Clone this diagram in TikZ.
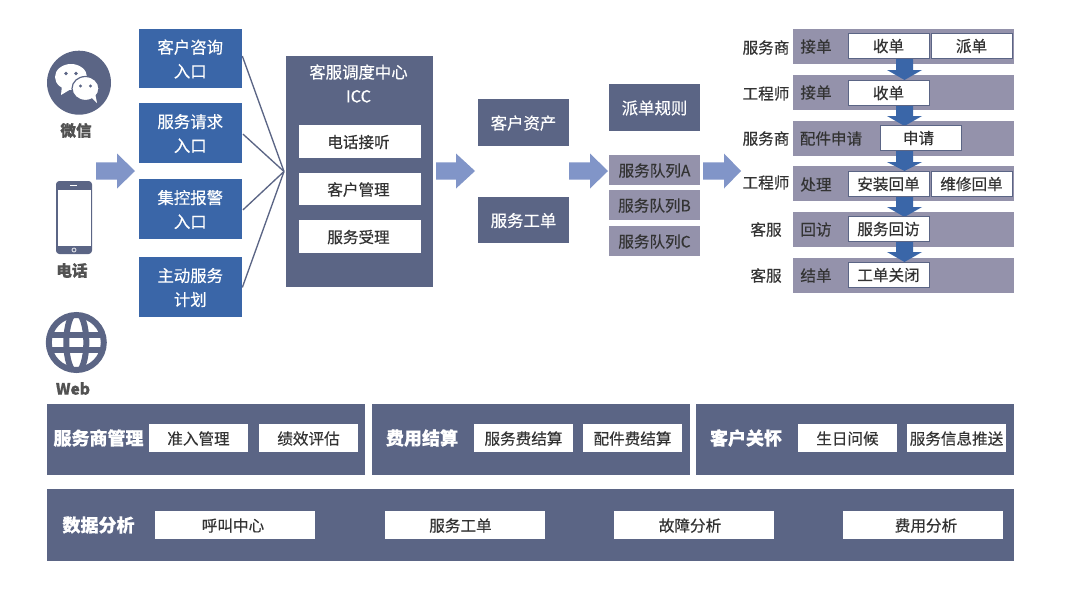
\documentclass[tikz,border=0pt]{standalone}
\usepackage{fontspec}
\setmainfont{Noto Sans CJK SC}[FakeBold=0.35]
\definecolor{slateC}{HTML}{5B6585}
\definecolor{blueC}{HTML}{3A66A8}
\definecolor{bandC}{HTML}{9492AB}
\definecolor{arrowC}{HTML}{8195C8}
\definecolor{inkC}{HTML}{333333}
\tikzset{
  boxbase/.style={inner sep=0pt,align=center,font=\fontsize{11.7}{18}\selectfont},
  bigtext/.style={font=\fontsize{12.3}{18}\selectfont},
  slatebox/.style={boxbase,bigtext,fill=slateC,text=white},
  bluebox/.style={boxbase,bigtext,fill=blueC,text=white},
  whitebox/.style={boxbase,fill=white,text=inkC},
  whiteedge/.style={whitebox,draw=slateC,line width=0.5pt},
  bandbox/.style={boxbase,fill=bandC,text=inkC},
  lbl/.style={inner sep=0pt,align=center,text=inkC,font=\fontsize{11.7}{18}\selectfont},
  iconlbl/.style={lbl,text=inkC!85!white,font=\fontsize{11.7}{18}\selectfont\bfseries},
  titlelbl/.style={inner sep=0pt,text=white,font=\fontsize{13.5}{18}\selectfont\bfseries},
  feed/.style={draw=slateC,line width=1pt,shorten <=1.2pt},
}
% [text x offset], name, x1, y1, x2, y2, style, text
\newcommand\bx[8][0]{\node[#7,minimum width={(#5-#3)*0.75pt},minimum height={(#6-#4)*0.75pt}] (#2) at ({(#3+#5)/2},{(#4+#6)/2}) {};
  \node[#7,fill=none,draw=none,xshift={(#1)*0.75pt},yshift=-0.4pt] (#2t) at (#2.center) {#8};}
% block arrow pointing right: x start, x head, x tip, y centre
\newcommand\rarrow[4]{\fill[arrowC] (#1,#4-8.7) -- (#2,#4-8.7) -- (#2,#4-17.5) -- (#3,#4) -- (#2,#4+17.5) -- (#2,#4+8.7) -- (#1,#4+8.7) -- cycle;}
% block arrow pointing down: y start, y head, y tip
\newcommand\darrow[3]{\fill[blueC] (896,#1) -- (913,#1) -- (913,#2) -- (922,#2) -- (904.5,#3) -- (887,#2) -- (896,#2) -- cycle;}
\begin{document}
\begin{tikzpicture}[x=0.75pt,y=-0.75pt]
\useasboundingbox[fill=white] (0,0) rectangle (1080,593);

% WeChat icon
\fill[slateC] (79,82.7) circle[radius=32];
\fill[white] (71,77) ellipse[x radius=16,y radius=13];
\fill[white] (62,85) -- (61,95) -- (71,89) -- cycle;
\fill[white,draw=slateC,line width=0.9pt] (85.5,88.5) ellipse[x radius=13.5,y radius=12];
\fill[white] (91,97) -- (97,103) -- (95,93) -- cycle;
\fill[slateC] (66,73.5) circle[radius=1.9] (76,73.5) circle[radius=1.9] (80.5,86) circle[radius=1.6] (90.5,86) circle[radius=1.6];
\node[iconlbl] (wxlabel) at (76,130.5) {微信};

% Phone icon
\fill[slateC,rounded corners=2.5pt] (56,181) rectangle (92,254);
\fill[white] (58,190) rectangle (90.5,246);
\fill[white] (70,184.6) rectangle (77,185.8);
\draw[white,line width=0.5pt] (74,250) circle[radius=2];
\node[iconlbl] (tellabel) at (72,270.5) {电话};

% Globe icon
\fill[white,draw=slateC,line width=4.5pt] (76.3,342.5) circle[radius=27.5];
\begin{scope}
\clip (76.3,342.5) circle[radius=28];
\draw[slateC,line width=4.5pt] (76.3,342.5) ellipse[x radius=10,y radius=30];
\draw[slateC,line width=4.5pt] (40,335) -- (110,335) (40,350) -- (110,350);
\end{scope}
\node[iconlbl] (weblabel) at (73,388.5) {Web};

% Arrows between the stages
\rarrow{96}{117}{135}{171}
\rarrow{436}{456}{475}{171}
\rarrow{569}{590}{608}{171}
\rarrow{703}{724}{741}{171}

% Entry boxes
\bx{e1}{139}{29}{241.5}{88}{bluebox}{客户咨询\\入口}
\bx{e2}{139}{103}{241.5}{163}{bluebox}{服务请求\\入口}
\bx{e3}{139}{179}{241.5}{239}{bluebox}{集控报警\\入口}
\bx{e4}{139}{257}{241.5}{317}{bluebox}{主动服务\\计划}
\coordinate (hub) at (284,171.5);
\draw[feed] (e1.east) ++(0,-4) -- (hub);
\draw[feed] (e2.east) -- (hub);
\draw[feed] (e3.east) ++(0,2) -- (hub);
\draw[feed] (e4.east) ++(0,2) -- (hub);

% ICC
\bx{icc}{286}{56}{433}{287}{slatebox}{}
\node[lbl,bigtext,text=white] (icct) at (358.5,83.5) {客服调度中心\\ICC};
\bx[-1.5]{i1}{299}{125}{421}{158}{whitebox}{电话接听}
\bx[-1.5]{i2}{299}{173}{421}{205}{whitebox}{客户管理}
\bx[-1.5]{i3}{299}{220}{421}{253}{whitebox}{服务受理}

% Middle
\bx{m1}{478}{99}{569}{146}{slatebox}{客户资产}
\bx{m2}{478}{197}{569}{243}{slatebox}{服务工单}
\bx{rule}{609}{84}{700}{131}{slatebox}{派单规则}
\bx{q1}{609}{155}{700}{185}{bandbox}{服务队列A}
\bx{q2}{609}{190}{700}{220}{bandbox}{服务队列B}
\bx{q3}{609}{226}{700}{256}{bandbox}{服务队列C}

% Workflow bands
\bx{b1}{793}{29}{1014}{64}{bandbox}{}
\bx{b2}{793}{75}{1014}{110}{bandbox}{}
\bx{b3}{793}{121}{1014}{156}{bandbox}{}
\bx{b4}{793}{166}{1014}{201}{bandbox}{}
\bx{b5}{793}{212}{1014}{247}{bandbox}{}
\bx{b6}{793}{258}{1014}{293}{bandbox}{}

\darrow{58}{70}{80}
\darrow{104}{116}{126}
\darrow{150}{162}{171}
\darrow{196}{207}{217}
\darrow{241}{252}{262}

\node[lbl] (r1) at (766,47.5) {服务商};
\node[lbl] (r2) at (766,93.5) {工程师};
\node[lbl] (r3) at (766,138.5) {服务商};
\node[lbl] (r4) at (766,182.5) {工程师};
\node[lbl] (r5) at (766,229.5) {客服};
\node[lbl] (r6) at (766,275.5) {客服};

\node[lbl] (s1) at (816,46.5) {接单};
\node[lbl] (s2) at (816,92.5) {接单};
\node[lbl] (s3) at (831,138.5) {配件申请};
\node[lbl] (s4) at (816,184.5) {处理};
\node[lbl] (s5) at (816,229.5) {回访};
\node[lbl] (s6) at (816,275.5) {结单};

\bx{w1}{848}{33}{929}{58}{whiteedge}{收单}
\bx{w2}{931}{33}{1012}{58}{whiteedge}{派单}
\bx{w3}{848}{80}{929}{105}{whiteedge}{收单}
\bx[-2]{w4}{880}{125}{961}{150}{whiteedge}{申请}
\bx{w5}{848}{171}{929}{196}{whiteedge}{安装回单}
\bx{w6}{931}{171}{1012}{196}{whiteedge}{维修回单}
\bx{w7}{848}{216}{929}{241}{whiteedge}{服务回访}
\bx{w8}{848}{262}{929}{287}{whiteedge}{工单关闭}

% Bottom bands
\bx{f1}{47}{404}{365}{475}{slatebox}{}
\bx{f2}{372}{404}{690}{475}{slatebox}{}
\bx{f3}{696}{404}{1014}{475}{slatebox}{}
\bx{f4}{47}{489}{1014}{561}{slatebox}{}

\node[titlelbl] (t1) at (98.5,438) {服务商管理};
\node[titlelbl] (t2) at (422,438) {费用结算};
\node[titlelbl] (t3) at (746,438) {客户关怀};
\node[titlelbl] (t4) at (98.5,525) {数据分析};

\bx{g1}{149}{424}{248}{452}{whitebox}{准入管理}
\bx{g2}{259}{424}{358}{452}{whitebox}{绩效评估}
\bx{g3}{474}{424}{573}{452}{whitebox}{服务费结算}
\bx{g4}{583}{424}{682}{452}{whitebox}{配件费结算}
\bx{g5}{798}{424}{897}{452}{whitebox}{生日问候}
\bx{g6}{907}{424}{1006}{452}{whitebox}{服务信息推送}
\bx[-2]{d1}{155}{511}{315}{539}{whitebox}{呼叫中心}
\bx[-4.5]{d2}{385}{511}{545}{539}{whitebox}{服务工单}
\bx[-4]{d3}{614}{511}{774}{539}{whitebox}{故障分析}
\bx[3]{d4}{843}{511}{1003}{539}{whitebox}{费用分析}
\end{tikzpicture}
\end{document}
